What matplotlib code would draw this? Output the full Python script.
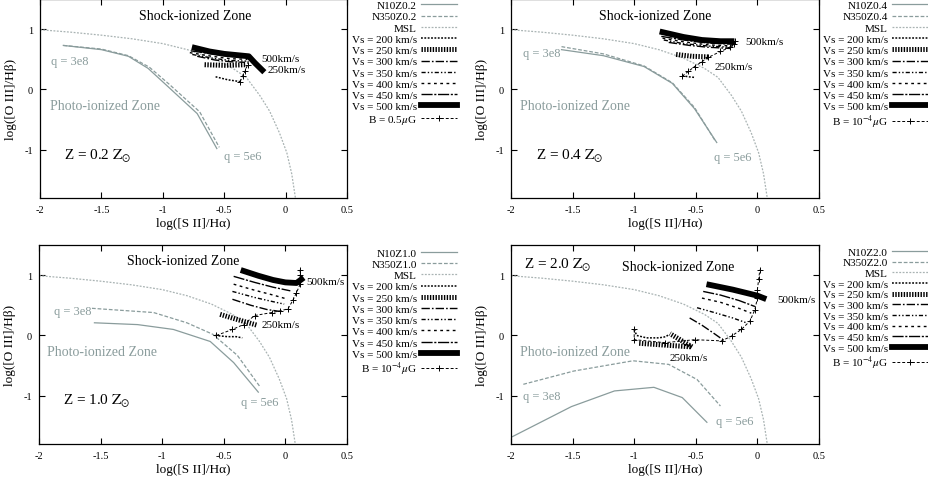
import matplotlib
matplotlib.use('Agg')
import matplotlib.pyplot as plt

plt.rcParams['font.family'] = ['Liberation Serif', 'DejaVu Serif']
plt.rcParams['mathtext.fontset'] = 'stix'

# ---------------- data ----------------
msl_x = [-2.0, -1.75, -1.5, -1.25, -1.0, -0.8, -0.6, -0.43, -0.32, -0.21, -0.13, -0.05, 0.01, 0.05, 0.08]
msl_y = [0.99, 0.95, 0.90, 0.84, 0.76, 0.66, 0.52, 0.35, 0.20, -0.10, -0.36, -0.72, -1.05, -1.40, -1.80]

# Z = 0.2
z02_n10_x = [-1.81, -1.50, -1.28, -1.12, -0.97, -0.72, -0.56]
z02_n10_y = [0.73, 0.66, 0.55, 0.35, 0.07, -0.40, -0.98]
z02_n350_x = [-1.81, -1.50, -1.28, -1.11, -0.95, -0.70, -0.54]
z02_n350_y = [0.73, 0.67, 0.56, 0.37, 0.09, -0.37, -0.96]
z02_v200_x = [-0.57, -0.47, -0.37]
z02_v200_y = [0.21, 0.16, 0.13]
z02_v250_x = [-0.66, -0.50, -0.32]
z02_v250_y = [0.41, 0.40, 0.41]
z02_v300_x = [-0.72, -0.58, -0.45, -0.33]
z02_v300_y = [0.55, 0.49, 0.46, 0.45]
z02_v350_x = [-0.76, -0.60, -0.45, -0.32]
z02_v350_y = [0.58, 0.52, 0.48, 0.47]
z02_v400_x = [-0.78, -0.60, -0.45, -0.31]
z02_v400_y = [0.61, 0.55, 0.51, 0.50]
z02_v450_x = [-0.77, -0.60, -0.45, -0.31]
z02_v450_y = [0.64, 0.59, 0.55, 0.53]
z02_v500_x = [-0.74, -0.62, -0.50, -0.40, -0.30, -0.25, -0.19]
z02_v500_y = [0.69, 0.63, 0.59, 0.57, 0.55, 0.44, 0.32]
z02_b_x = [-0.37, -0.35, -0.33, -0.31, -0.30]
z02_b_y = [0.13, 0.22, 0.30, 0.41, 0.53]

# Z = 0.4
z04_n10_x = [-1.59, -1.25, -0.92, -0.69, -0.51, -0.33]
z04_n10_y = [0.66, 0.56, 0.38, 0.10, -0.32, -0.88]
z04_n350_x = [-1.59, -1.25, -0.92, -0.69, -0.51, -0.34]
z04_n350_y = [0.71, 0.59, 0.39, 0.11, -0.30, -0.86]
z04_v200_x = [-0.61, -0.56, -0.51]
z04_v200_y = [0.23, 0.21, 0.20]
z04_v250_x = [-0.66, -0.53, -0.40]
z04_v250_y = [0.58, 0.55, 0.54]
z04_v300_x = [-0.72, -0.55, -0.40, -0.22]
z04_v300_y = [0.78, 0.73, 0.70, 0.68]
z04_v350_x = [-0.76, -0.60, -0.40, -0.21]
z04_v350_y = [0.82, 0.76, 0.72, 0.70]
z04_v400_x = [-0.77, -0.60, -0.40, -0.20]
z04_v400_y = [0.85, 0.79, 0.74, 0.72]
z04_v450_x = [-0.78, -0.60, -0.40, -0.20]
z04_v450_y = [0.88, 0.82, 0.77, 0.75]
z04_v500_x = [-0.77, -0.60, -0.45, -0.30, -0.21]
z04_v500_y = [0.95, 0.87, 0.82, 0.80, 0.80]
z04_b_x = [-0.61, -0.56, -0.51, -0.45, -0.40, -0.30, -0.22, -0.19, -0.18]
z04_b_y = [0.22, 0.30, 0.38, 0.46, 0.53, 0.63, 0.70, 0.75, 0.80]

# Z = 1.0
z10_n10_x = [-1.55, -1.20, -0.91, -0.61, -0.42, -0.22]
z10_n10_y = [0.21, 0.18, 0.10, -0.10, -0.45, -0.94]
z10_n350_x = [-1.57, -1.07, -0.80, -0.59, -0.39, -0.21]
z10_n350_y = [0.45, 0.38, 0.21, 0.02, -0.33, -0.84]
z10_v200_x = [-0.57, -0.47, -0.40, -0.35]
z10_v200_y = [0.00, -0.02, -0.02, -0.04]
z10_v250_x = [-0.53, -0.40, -0.23]
z10_v250_y = [0.35, 0.27, 0.17]
z10_v300_x = [-0.43, -0.28, -0.15, -0.05]
z10_v300_y = [0.60, 0.50, 0.43, 0.40]
z10_v350_x = [-0.43, -0.25, -0.10, -0.01]
z10_v350_y = [0.73, 0.63, 0.56, 0.52]
z10_v400_x = [-0.42, -0.25, -0.10, 0.02]
z10_v400_y = [0.85, 0.75, 0.67, 0.60]
z10_v450_x = [-0.42, -0.25, -0.10, 0.04]
z10_v450_y = [0.98, 0.88, 0.80, 0.74]
z10_v500_x = [-0.34, -0.22, -0.10, 0.00, 0.09, 0.13]
z10_v500_y = [1.07, 0.99, 0.92, 0.88, 0.87, 0.93]
z10_b_x = [-0.56, -0.43, -0.34, -0.25, -0.11, -0.04, 0.02, 0.06, 0.09, 0.12, 0.12, 0.12]
z10_b_y = [0.00, 0.10, 0.18, 0.33, 0.38, 0.41, 0.44, 0.58, 0.71, 0.85, 1.00, 1.09]

# Z = 2.0
z20_n10_x = [-2.0, -1.51, -1.16, -0.84, -0.61, -0.41]
z20_n10_y = [-1.69, -1.18, -0.92, -0.86, -1.03, -1.44]
z20_n350_x = [-1.90, -1.49, -1.01, -0.72, -0.49, -0.30]
z20_n350_y = [-0.81, -0.59, -0.42, -0.48, -0.73, -1.17]
z20_v200_x = [-1.0, -0.98, -0.90, -0.80, -0.74, -0.72]
z20_v200_y = [0.10, 0.00, -0.04, -0.04, -0.02, 0.02]
z20_v250_x = [-0.96, -0.75, -0.53, -0.62, -0.71]
z20_v250_y = [-0.13, -0.16, -0.19, -0.08, 0.03]
z20_v300_x = [-0.55, -0.45, -0.35, -0.26]
z20_v300_y = [0.29, 0.17, 0.03, -0.10]
z20_v350_x = [-0.49, -0.35, -0.20, -0.09]
z20_v350_y = [0.46, 0.38, 0.29, 0.21]
z20_v400_x = [-0.45, -0.30, -0.15, -0.05]
z20_v400_y = [0.62, 0.55, 0.45, 0.37]
z20_v450_x = [-0.44, -0.30, -0.15, -0.02]
z20_v450_y = [0.73, 0.67, 0.58, 0.48]
z20_v500_x = [-0.39, -0.20, 0.00, 0.05]
z20_v500_y = [0.84, 0.76, 0.66, 0.62]
z20_b_x = [-1.0, -1.0, -0.75, -0.51, -0.29, -0.21, -0.13, -0.06, -0.02, 0.00, 0.00, 0.01, 0.02]
z20_b_y = [0.10, -0.07, -0.12, -0.07, -0.09, -0.01, 0.10, 0.24, 0.43, 0.62, 0.76, 0.93, 1.09]

vs_values = [200, 250, 300, 350, 400, 450, 500]
x_ticks = [-2, -1.5, -1, -0.5, 0, 0.5]
x_ticklabels = ['-2', '-1.5', '-1', '-0.5', '0', '0.5']
y_ticks = [-1, 0, 1]
y_ticklabels = ['-1', '0', '1']

# ---------------- styles ----------------
W, H = 929, 485
PHOTO = '#8a9c9c'
MSLC = '#a9b3b3'
vs_style = {
    200: dict(ls=(0, (1.2, 1.0)), lw=1.1),
    250: dict(ls=(0, (0.28, 0.28)), lw=3.6),
    300: dict(ls=(0, (6, 1.5, 1.2, 1.5)), lw=1.0),
    350: dict(ls=(0, (3, 1.5, 1, 1.5, 1, 1.5)), lw=1.0),
    400: dict(ls=(0, (2, 2.5)), lw=1.0),
    450: dict(ls=(0, (8, 1.2, 1.5, 1.2)), lw=1.0),
    500: dict(ls='-', lw=4.2),
}

fig = plt.figure(figsize=(W / 100, H / 100), dpi=100)

panels = [
    dict(rect=(40, 347, 0, 199), name='0.2',
         n10=(z02_n10_x, z02_n10_y), n350=(z02_n350_x, z02_n350_y),
         vs=[(z02_v200_x, z02_v200_y), (z02_v250_x, z02_v250_y), (z02_v300_x, z02_v300_y),
             (z02_v350_x, z02_v350_y), (z02_v400_x, z02_v400_y), (z02_v450_x, z02_v450_y),
             (z02_v500_x, z02_v500_y)],
         b=(z02_b_x, z02_b_y), blabel='B = 0.5$\\mu$G',
         shock=(-0.74, 1.22), photo=(-1.47, -0.26), q3=(-1.76, 0.48), q5=(-0.35, -1.11),
         zl=(-1.53, -1.09), l500=(-0.20, 0.52), l250=(-0.145, 0.33),
         leg=(457, 1.5), sp=0.13),
    dict(rect=(511, 819, 0, 199), name='0.4',
         n10=(z04_n10_x, z04_n10_y), n350=(z04_n350_x, z04_n350_y),
         vs=[(z04_v200_x, z04_v200_y), (z04_v250_x, z04_v250_y), (z04_v300_x, z04_v300_y),
             (z04_v350_x, z04_v350_y), (z04_v400_x, z04_v400_y), (z04_v450_x, z04_v450_y),
             (z04_v500_x, z04_v500_y)],
         b=(z04_b_x, z04_b_y), blabel='B = 10$^{-4}$$\\mu$G',
         shock=(-0.83, 1.23), photo=(-1.48, -0.26), q3=(-1.75, 0.60), q5=(-0.20, -1.12),
         zl=(-1.52, -1.10), l500=(-0.10, 0.80), l250=(-0.35, 0.38),
         leg=(928, 1.5), sp=0.13),
    dict(rect=(39, 347, 246, 445), name='1.0',
         n10=(z10_n10_x, z10_n10_y), n350=(z10_n350_x, z10_n350_y),
         vs=[(z10_v200_x, z10_v200_y), (z10_v250_x, z10_v250_y), (z10_v300_x, z10_v300_y),
             (z10_v350_x, z10_v350_y), (z10_v400_x, z10_v400_y), (z10_v450_x, z10_v450_y),
             (z10_v500_x, z10_v500_y)],
         b=(z10_b_x, z10_b_y), blabel='B = 10$^{-4}$$\\mu$G',
         shock=(-0.83, 1.24), photo=(-1.49, -0.26), q3=(-1.73, 0.40), q5=(-0.21, -1.11),
         zl=(-1.53, -1.07), l500=(0.17, 0.89), l250=(-0.19, 0.18),
         leg=(457, 249.0), sp=0.13),
    dict(rect=(511, 819, 246, 445), name='2.0',
         n10=(z20_n10_x, z20_n10_y), n350=(z20_n350_x, z20_n350_y),
         vs=[(z20_v200_x, z20_v200_y), (z20_v250_x, z20_v250_y), (z20_v300_x, z20_v300_y),
             (z20_v350_x, z20_v350_y), (z20_v400_x, z20_v400_y), (z20_v450_x, z20_v450_y),
             (z20_v500_x, z20_v500_y)],
         b=(z20_b_x, z20_b_y), blabel='B = 10$^{-4}$$\\mu$G',
         shock=(-0.64, 1.14), photo=(-1.48, -0.26), q3=(-1.75, -1.01), q5=(-0.18, -1.42),
         zl=(-1.62, 1.17), l500=(0.16, 0.60), l250=(-0.71, -0.37),
         leg=(928, 248.0), sp=0.08),
]

for p in panels:
    l, r, t, b = p['rect']
    ax = fig.add_axes([l / W, 1 - b / H, (r - l) / W, (b - t) / H])
    ax.set_xlim(-2, 0.5)
    ax.set_ylim(-1.8, 1.5)
    handles, labels = [], []
    h, = ax.plot(*p['n10'], color=PHOTO, lw=0.9, ls='-')
    handles.append(h); labels.append('N10Z' + p['name'])
    h, = ax.plot(*p['n350'], color=PHOTO, lw=0.9, ls=(0, (3, 1.5)))
    handles.append(h); labels.append('N350Z' + p['name'])
    h, = ax.plot(msl_x, msl_y, color=MSLC, lw=0.9, ls=(0, (1.5, 1.2)))
    handles.append(h); labels.append('MSL')
    for v, (xs, ys) in zip(vs_values, p['vs']):
        h, = ax.plot(xs, ys, color='black', **vs_style[v])
        handles.append(h); labels.append('Vs = %d km/s' % v)
    h, = ax.plot(*p['b'], color='black', lw=0.7, ls=(0, (3, 2)), marker='+', ms=5, mew=0.7)
    handles.append(h); labels.append(p['blabel'])

    ax.text(*p['shock'], 'Shock-ionized Zone', ha='center', va='center', fontsize=10)
    ax.text(*p['photo'], 'Photo-ionized Zone', ha='center', va='center', fontsize=10, color=PHOTO)
    ax.text(*p['q3'], 'q = 3e8', ha='center', va='center', fontsize=9, color=PHOTO)
    ax.text(*p['q5'], 'q = 5e6', ha='center', va='center', fontsize=9, color=PHOTO)
    ax.text(*p['zl'], 'Z = %s $\\mathrm{Z}_{\\odot}$' % p['name'], ha='center', va='center', fontsize=11)
    ax.text(*p['l500'], '500km/s', ha='left', va='center', fontsize=8)
    ax.text(*p['l250'], '250km/s', ha='left', va='center', fontsize=8)

    ax.set_xticks(x_ticks)
    ax.set_xticklabels(x_ticklabels)
    ax.set_yticks(y_ticks)
    ax.set_yticklabels(y_ticklabels)
    ax.tick_params(direction='in', top=True, right=True, length=4, width=0.8, labelsize=7.5)
    ax.tick_params(axis='x', pad=5)
    ax.tick_params(axis='y', pad=5)
    ax.set_xlabel('log([S II]/H\u03b1)', fontsize=9.5, labelpad=2)
    ax.set_ylabel('log([O III]/H\u03b2)', fontsize=9.5, labelpad=5)
    for s in ax.spines.values():
        s.set_linewidth(0.9)

    lx, ly = p['leg']
    ax.legend(handles, labels, loc='upper right', bbox_to_anchor=(lx / W, 1 - ly / H),
              bbox_transform=fig.transFigure, frameon=False, markerfirst=False,
              fontsize=8, handlelength=3.2, handletextpad=0.4, labelspacing=p['sp'],
              borderpad=0, borderaxespad=0, numpoints=1)

fig.savefig('out.png', dpi=100)
